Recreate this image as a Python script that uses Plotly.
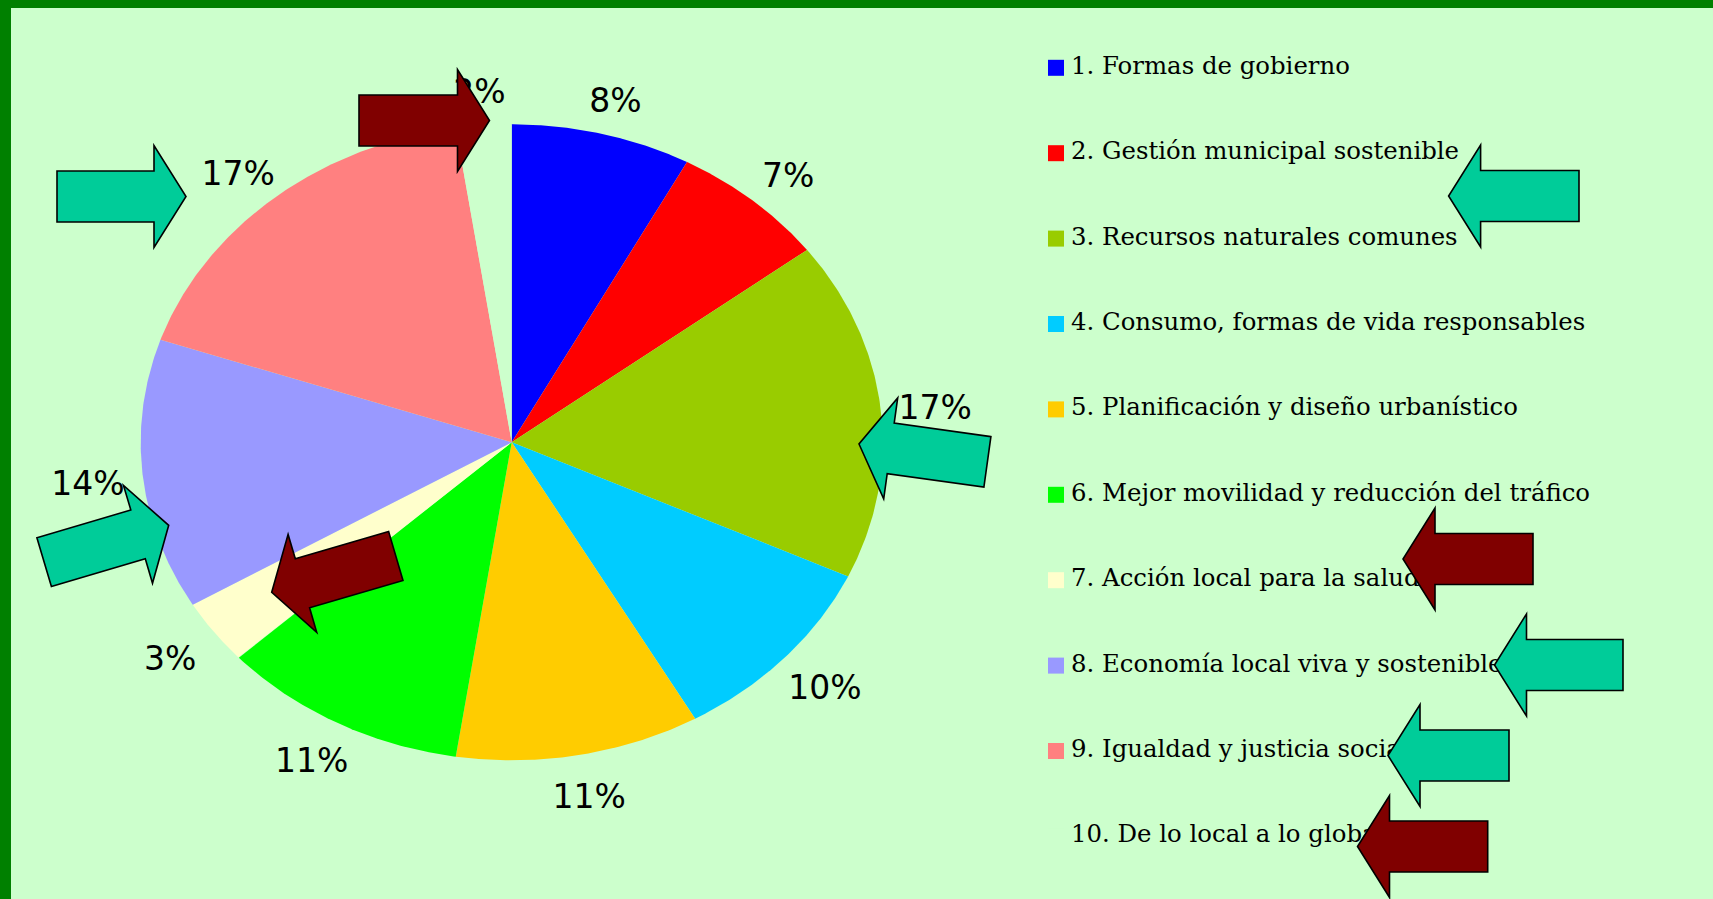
import numpy as np
import plotly.graph_objects as go

# ---------------- data ----------------
categories = [
    "1. Formas de gobierno",
    "2. Gestión municipal sostenible",
    "3. Recursos naturales comunes",
    "4. Consumo, formas de vida responsables",
    "5. Planificación y diseño urbanístico",
    "6. Mejor movilidad y reducción del tráfico",
    "7. Acción local para la salud",
    "8. Economía local viva y sostenible",
    "9. Igualdad y justicia social",
    "10. De lo local a lo global",
]
values = [7.8, 6.8, 17.2, 9.8, 10.6, 10.7, 3.3, 13.7, 17.3, 2.4]
colors = ["#0000FF", "#FF0000", "#99CC00", "#00CCFF", "#FFCC00",
          "#00FF00", "#FFFFCC", "#9999FF", "#FF8080", "#CCFFCC"]

# ---------------- layout constants ----------------
W, H = 1713, 899
BG = "#CCFFCC"
CX, CY = 511.7, 442.3        # pie centre (px)
RX, RY = 371.0, 318.0        # pie radii (px) - stretched pie
LBL_DX, LBL_DY = 55.0, 38.0  # label offset beyond the rim
LBL_SHIFT_Y = 7.0            # text baseline compensation

LEG_X_SQ, LEG_X_TXT = 1056.0, 1071.0
LEG_Y0, LEG_DY = 67.8, 85.4

TEAL, DARKRED = "#00CC99", "#800000"
# arrows: tip x, tip y, pointing direction (deg, screen coords), length, colour
arrows = [
    (186.0, 196.5, 0.0, 129.0, TEAL),
    (489.5, 120.5, 0.0, 130.5, DARKRED),
    (1448.6, 196.0, 180.0, 130.4, TEAL),
    (1403.0, 559.0, 180.0, 130.0, DARKRED),
    (1494.5, 665.0, 180.0, 128.5, TEAL),
    (1388.0, 755.5, 180.0, 121.0, TEAL),
    (1357.5, 846.5, 180.0, 130.2, DARKRED),
    (859.0, 444.0, 187.9, 129.6, TEAL),
    (168.7, 525.3, -16.5, 129.9, TEAL),
    (271.7, 592.3, 163.7, 129.3, DARKRED),
]
SHAFT_HW, HEAD_HW, HEAD_LEN = 25.5, 51.0, 32.0

fig = go.Figure()

# ---------------- pie slices ----------------
total = sum(values)
cum = np.concatenate([[0.0], np.cumsum(values)])
for i, (v, c) in enumerate(zip(values, colors)):
    a0 = cum[i] / total * 2 * np.pi
    a1 = cum[i + 1] / total * 2 * np.pi
    t = np.linspace(a0, a1, 120)
    xs = np.concatenate([[CX], CX + RX * np.sin(t), [CX]])
    ys = np.concatenate([[CY], CY - RY * np.cos(t), [CY]])
    fig.add_trace(go.Scatter(
        x=xs, y=ys, mode="lines", fill="toself", fillcolor=c,
        line=dict(width=0, color=c), hoverinfo="skip", showlegend=False,
        name=categories[i]))

# ---------------- percentage labels ----------------
mid = (cum[:-1] + cum[1:]) / 2 / total * 2 * np.pi
lx = CX + (RX + LBL_DX) * np.sin(mid)
ly = CY - (RY + LBL_DY) * np.cos(mid) + LBL_SHIFT_Y
pct = [f"{round(v / total * 100)}%" for v in values]
fig.add_trace(go.Scatter(
    x=lx, y=ly, mode="text", text=pct, textposition="middle center",
    textfont=dict(family="DejaVu Sans", size=33, color="black"),
    hoverinfo="skip", showlegend=False))

# ---------------- legend (drawn in the plot so arrows lie on top) ----------------
n = len(categories)
leg_y = [LEG_Y0 + LEG_DY * i for i in range(n)]
fig.add_trace(go.Scatter(
    x=[LEG_X_SQ] * n, y=leg_y, mode="markers",
    marker=dict(symbol="square", size=16, color=colors, line=dict(width=0)),
    hoverinfo="skip", showlegend=False))
fig.add_trace(go.Scatter(
    x=[LEG_X_TXT] * n, y=leg_y, mode="text", text=categories,
    textposition="middle right", marker=dict(size=1),
    textfont=dict(family="DejaVu Serif", size=24.4, color="black"),
    hoverinfo="skip", showlegend=False))

# ---------------- block arrows ----------------
def arrow_path(tx, ty, ang, length):
    a = np.deg2rad(ang)
    u = np.array([np.cos(a), np.sin(a)])     # pointing direction
    nrm = np.array([-u[1], u[0]])
    tip = np.array([tx, ty])
    tail = tip - u * length
    base = tip - u * HEAD_LEN
    pts = [tail + nrm * SHAFT_HW, base + nrm * SHAFT_HW, base + nrm * HEAD_HW,
           tip, base - nrm * HEAD_HW, base - nrm * SHAFT_HW, tail - nrm * SHAFT_HW]
    return "M " + " L ".join(f"{p[0]:.1f},{p[1]:.1f}" for p in pts) + " Z"

shapes = []
for tx, ty, ang, ln, col in arrows:
    shapes.append(dict(type="path", path=arrow_path(tx, ty, ang, ln),
                       xref="x", yref="y", fillcolor=col,
                       line=dict(color="black", width=1.6), layer="above"))
# green frame (top and left)
shapes.append(dict(type="rect", xref="paper", yref="paper", x0=0, x1=1,
                   y0=1 - 8 / H, y1=1, fillcolor="#008000", line=dict(width=0),
                   layer="above"))
shapes.append(dict(type="rect", xref="paper", yref="paper", x0=0, x1=11 / W,
                   y0=0, y1=1, fillcolor="#008000", line=dict(width=0),
                   layer="above"))

fig.update_layout(
    width=W, height=H, margin=dict(l=0, r=0, t=0, b=0, pad=0),
    paper_bgcolor=BG, plot_bgcolor=BG, showlegend=False,
    shapes=shapes, dragmode=False,
    xaxis=dict(range=[0, W], visible=False, fixedrange=True, domain=[0, 1]),
    yaxis=dict(range=[H, 0], visible=False, fixedrange=True, domain=[0, 1]),
)

fig.write_html(
    "out.html",
    config={"displayModeBar": False},
    post_script=("document.body.style.margin='0';"
                 "document.body.style.padding='0';"
                 "document.body.style.overflow='hidden';"
                 "document.body.style.background='" + BG + "';"),
)
